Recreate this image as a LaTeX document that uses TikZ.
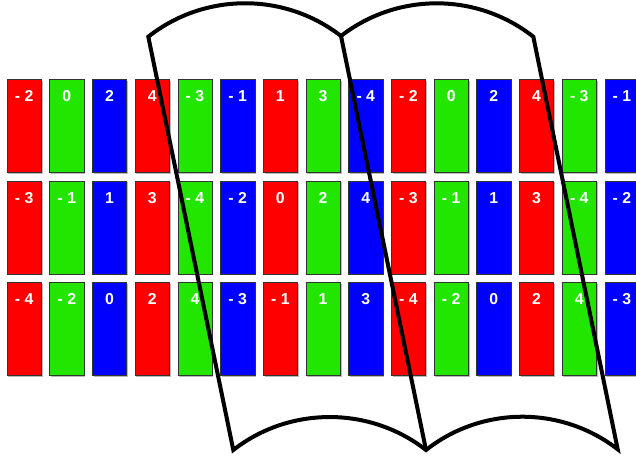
\documentclass[tikz,border=0pt]{standalone}
\usepackage{fontspec}
\setmainfont{Liberation Sans}
\usetikzlibrary{calc}
\usetikzlibrary{shadows}
\definecolor{pixred}{RGB}{255,0,0}
\definecolor{pixgreen}{RGB}{34,230,0}
\definecolor{pixblue}{RGB}{0,0,255}
\tikzset{
  subpix/.style={draw=black!80, line width=0.5pt, anchor=north west, inner sep=0pt,
    minimum width=1.03cm, minimum height=2.79cm,
    drop shadow={shadow xshift=0.04cm, shadow yshift=-0.04cm, fill=black!45, opacity=0.6}},
  pixlbl/.style={text=white, font=\fontsize{13.5}{13.5}\selectfont\bfseries, inner sep=0pt},
  lens/.style={line width=0.12cm, line join=miter}
}

\begin{document}
\begin{tikzpicture}[x=0.03cm, y=-0.03cm]
  \clip (0,0) rectangle (636,457);

  % subpixel columns
  \foreach \row/\vals in {0/{- 2,0,2,4,- 3,- 1,1,3,- 4,- 2,0,2,4,- 3,- 1},
                          1/{- 3,- 1,1,3,- 4,- 2,0,2,4,- 3,- 1,1,3,- 4,- 2},
                          2/{- 4,- 2,0,2,4,- 3,- 1,1,3,- 4,- 2,0,2,4,- 3}} {
    \foreach \v [count=\k from 0] in \vals {
      \pgfmathtruncatemacro\c{mod(\k,3)}
      \ifcase\c \colorlet{pixcur}{pixred}\or \colorlet{pixcur}{pixgreen}\or \colorlet{pixcur}{pixblue}\fi
      \node[subpix, fill=pixcur] (p-\row-\k) at (6.7+42.7*\k, 79+101.7*\row) {};
      \node[pixlbl] (t-\row-\k) at ([yshift=-0.51cm]p-\row-\k.north) {\v};
    }
  }

  % lens corners
  \coordinate (TL) at (148.3,36.7);
  \coordinate (TM) at (341,36);
  \coordinate (TR) at (533.3,36.7);
  \coordinate (BL) at (233.3,450);
  \coordinate (BM) at (426,450);
  \coordinate (BR) at (617.7,449.3);

  % lenses
  \draw[lens] (BL) -- (TL) to[bend left=38, looseness=0.95] (TM)
    to[bend left=38, looseness=0.95] (TR) -- (BR)
    to[bend right=38, looseness=0.95] (BM)
    to[bend right=38, looseness=0.95] (BL) -- cycle;
  \draw[lens] (TM) -- (BM);
\end{tikzpicture}
\end{document}
